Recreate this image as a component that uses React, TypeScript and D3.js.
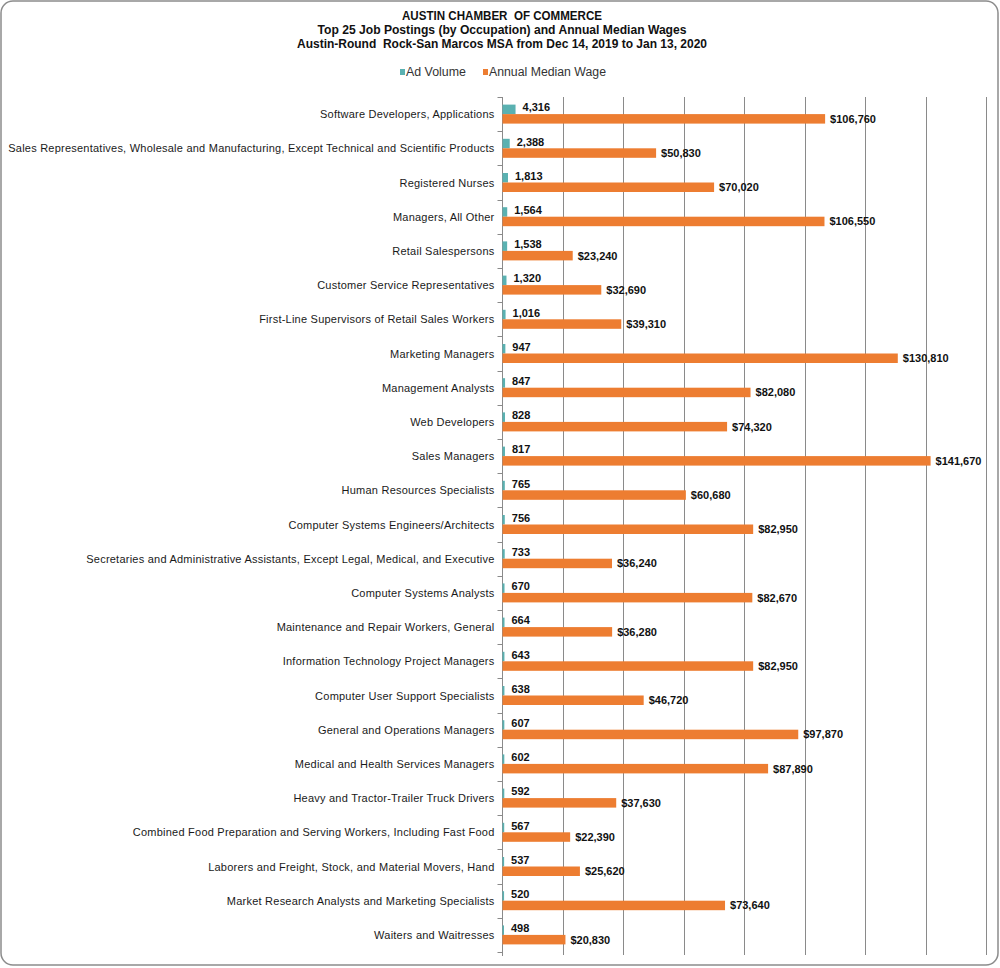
import { useEffect, useRef } from "react";
import * as d3 from "d3";

const categories = [
  "Software Developers, Applications",
  "Sales Representatives, Wholesale and Manufacturing, Except Technical and Scientific Products",
  "Registered Nurses",
  "Managers, All Other",
  "Retail Salespersons",
  "Customer Service Representatives",
  "First-Line Supervisors of Retail Sales Workers",
  "Marketing Managers",
  "Management Analysts",
  "Web Developers",
  "Sales Managers",
  "Human Resources Specialists",
  "Computer Systems Engineers/Architects",
  "Secretaries and Administrative Assistants, Except Legal, Medical, and Executive",
  "Computer Systems Analysts",
  "Maintenance and Repair Workers, General",
  "Information Technology Project Managers",
  "Computer User Support Specialists",
  "General and Operations Managers",
  "Medical and Health Services Managers",
  "Heavy and Tractor-Trailer Truck Drivers",
  "Combined Food Preparation and Serving Workers, Including Fast Food",
  "Laborers and Freight, Stock, and Material Movers, Hand",
  "Market Research Analysts and Marketing Specialists",
  "Waiters and Waitresses",
];

const adVolume = [
  4316, 2388, 1813, 1564, 1538, 1320, 1016, 947, 847, 828, 817, 765, 756, 733,
  670, 664, 643, 638, 607, 602, 592, 567, 537, 520, 498,
];

const medianWage = [
  106760, 50830, 70020, 106550, 23240, 32690, 39310, 130810, 82080, 74320,
  141670, 60680, 82950, 36240, 82670, 36280, 82950, 46720, 97870, 87890, 37630,
  22390, 25620, 73640, 20830,
];

const seriesNames = ["Ad Volume", "Annual Median Wage"];
const seriesColors = ["#5ab1b1", "#ed7d31"];

const titleLines = [
  "AUSTIN CHAMBER  OF COMMERCE",
  "Top 25 Job Postings (by Occupation) and Annual Median Wages",
  "Austin-Round  Rock-San Marcos MSA from Dec 14, 2019 to Jan 13, 2020",
];
// measured widths of the title lines in the original
const titleWidths = [200, 369, 410];

const W = 1000;
const H = 968;
const plot = { left: 502.5, right: 986, top: 97, bottom: 952 };
const arial = "'Liberation Sans', Arial, sans-serif";

export default function App() {
  const ref = useRef<SVGSVGElement>(null);

  useEffect(() => {
    const svg = d3.select(ref.current!);
    svg.selectAll("*").remove();

    // rounded chart frame
    const r = 12;
    const x0 = 1, y0 = 1, x1 = 998, y1 = 965;
    const frame = d3.path();
    frame.moveTo(x0 + r, y0);
    frame.lineTo(x1 - r, y0);
    frame.arcTo(x1, y0, x1, y0 + r, r);
    frame.lineTo(x1, y1 - r);
    frame.arcTo(x1, y1, x1 - r, y1, r);
    frame.lineTo(x0 + r, y1);
    frame.arcTo(x0, y1, x0, y1 - r, r);
    frame.lineTo(x0, y0 + r);
    frame.arcTo(x0, y0, x0 + r, y0, r);
    frame.closePath();
    svg
      .append("path")
      .attr("d", frame.toString())
      .attr("fill", "white")
      .attr("stroke", "#8c8c8c")
      .attr("stroke-width", 1.5);

    svg
      .append("g")
      .selectAll("text")
      .data(titleLines)
      .enter()
      .append("text")
      .attr("x", 502)
      .attr("y", (d, i) => 20 + i * 14)
      .attr("text-anchor", "middle")
      .attr("textLength", (d, i) => titleWidths[i])
      .attr("lengthAdjust", "spacingAndGlyphs")
      .style("font-family", arial)
      .style("font-weight", "bold")
      .style("font-size", "12px")
      .style("white-space", "pre")
      .attr("fill", "#111")
      .text((d) => d);

    // legend
    const legendX = [400, 483];
    const legendW = [60, 117];
    const lg = svg.append("g");
    seriesNames.forEach((name, i) => {
      lg.append("rect")
        .attr("x", legendX[i])
        .attr("y", 69)
        .attr("width", 5)
        .attr("height", 6)
        .attr("fill", seriesColors[i]);
      lg.append("text")
        .attr("x", legendX[i] + 6)
        .attr("y", 76)
        .attr("textLength", legendW[i])
        .attr("lengthAdjust", "spacingAndGlyphs")
        .style("font-family", arial)
        .style("font-size", "12px")
        .attr("fill", "#333")
        .text(name);
    });

    const x = d3.scaleLinear().domain([0, 160000]).range([plot.left, plot.right]);
    const y = d3.scaleBand<string>().domain(categories).range([plot.top, plot.bottom]);
    const inner = d3
      .scaleBand<number>()
      .domain([0, 1])
      .range([y.bandwidth() / 2 - 9.5, y.bandwidth() / 2 + 9.5]);

    // gridlines
    svg
      .append("g")
      .selectAll("line")
      .data(x.ticks(8).filter((t) => t > 0))
      .enter()
      .append("line")
      .attr("x1", (d) => Math.round(x(d)) + 0.5)
      .attr("x2", (d) => Math.round(x(d)) + 0.5)
      .attr("y1", plot.top)
      .attr("y2", plot.bottom + 3)
      .attr("stroke", "#8a8a8a")
      .attr("stroke-width", 1);

    // vertical axis with ticks at band edges
    const ax = svg.append("g");
    ax.append("line")
      .attr("x1", plot.left)
      .attr("x2", plot.left)
      .attr("y1", plot.top)
      .attr("y2", plot.bottom + 4)
      .attr("stroke", "#8a8a8a");
    const edges = categories.map((c) => y(c)!).concat([plot.bottom]);
    ax.selectAll("line.tick")
      .data(edges)
      .enter()
      .append("line")
      .attr("class", "tick")
      .attr("x1", plot.left - 5)
      .attr("x2", plot.left)
      .attr("y1", (d) => Math.round(d) + 0.5)
      .attr("y2", (d) => Math.round(d) + 0.5)
      .attr("stroke", "#8a8a8a");

    ax.selectAll("text")
      .data(categories)
      .enter()
      .append("text")
      .attr("x", plot.left - 8)
      .attr("y", (d) => y(d)! + y.bandwidth() / 2 + 4)
      .attr("text-anchor", "end")
      .style("font-family", arial)
      .style("font-size", "11px")
      .style("letter-spacing", "0.23px")
      .attr("fill", "#1a1a1a")
      .text((d) => d);

    const series = [adVolume, medianWage];
    const fmtLabel = [d3.format(","), (v: number) => "$" + d3.format(",")(v)];
    series.forEach((vals, si) => {
      const g = svg.append("g");
      g.selectAll("rect")
        .data(vals)
        .enter()
        .append("rect")
        .attr("x", plot.left)
        .attr("y", (d, i) => y(categories[i])! + inner(si)!)
        .attr("width", (d) => x(d) - plot.left)
        .attr("height", inner.bandwidth())
        .attr("fill", seriesColors[si]);
      g.selectAll("text")
        .data(vals)
        .enter()
        .append("text")
        .attr("x", (d) => x(d) + (si === 0 ? 7 : 5))
        .attr("y", (d, i) => y(categories[i])! + inner(si)! + inner.bandwidth() / 2 + (si === 0 ? 2 : 4))
        .style("font-family", arial)
        .style("font-weight", "bold")
        .style("font-size", "11px")
        .attr("fill", "#111")
        .text((d) => fmtLabel[si](d));
    });
  }, []);

  return (
    <svg
      ref={ref}
      width={W}
      height={H}
      style={{ position: "absolute", left: 0, top: 0, display: "block" }}
    />
  );
}
